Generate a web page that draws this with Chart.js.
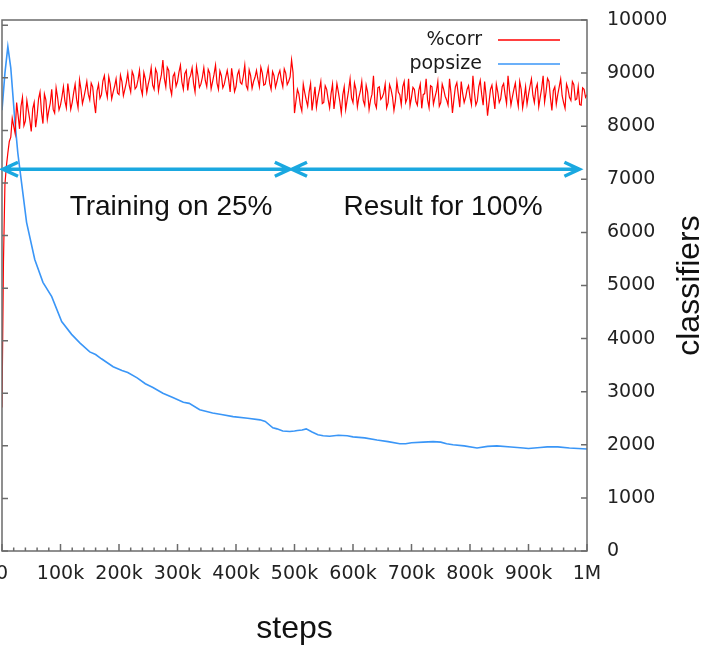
<!DOCTYPE html>
<html>
<head>
<meta charset="utf-8">
<script src="https://cdn.jsdelivr.net/npm/chart.js@4"></script>
<style>
body{margin:0;background:#fff;overflow:hidden;}
#wrap{width:718px;height:649px;overflow:hidden;position:relative;}
#c{position:absolute;left:-42px;top:0;}
</style>
</head>
<body>
<div id="wrap"><canvas id="c" width="760" height="649"></canvas></div>
<script>
// steps are in thousands
const xTickLabels = ['0', '100k', '200k', '300k', '400k', '500k', '600k', '700k', '800k', '900k', '1M'];

// %corr sampled every 5k steps (at 0, 5, 10 ...)
const corrInterval = 5;
const corrPct = [
  27.3, 69.7, 75.7, 78.7, 80.8, 85.3, 80.3, 86.3, 81.8, 83.8,
  79.8, 85.3, 82.8, 87.3, 81.3, 85.8, 83.8, 87.8, 83.3, 86.3,
  84.8, 88.3, 84.3, 86.8, 85.3, 88.8, 84.3, 87.8, 86.3, 89.3,
  85.8, 88.3, 83.3, 88.8, 86.8, 90.4, 86.3, 88.8, 87.3, 89.8,
  86.8, 89.3, 87.8, 90.9, 87.3, 90.4, 88.3, 91.4, 86.8, 89.8,
  88.8, 91.9, 87.8, 90.9, 89.3, 93.4, 88.3, 91.4, 86.8, 90.9,
  89.3, 92.4, 87.8, 91.4, 89.8, 91.9, 87.3, 90.4, 88.8, 91.9,
  88.3, 90.9, 89.3, 92.4, 87.8, 90.4, 88.8, 91.4, 87.3, 89.8,
  88.3, 91.4, 88.8, 92.4, 87.8, 90.4, 89.3, 91.4, 88.3, 90.9,
  88.8, 91.9, 87.8, 90.4, 89.3, 91.4, 88.3, 90.9, 89.3, 93.4,
  83.3, 87.8, 84.8, 88.8, 85.8, 87.3, 83.8, 88.3, 86.3, 89.3,
  85.3, 87.8, 84.3, 88.8, 86.3, 87.3, 83.3, 88.3, 85.8, 89.8,
  85.3, 87.8, 86.3, 89.3, 84.8, 87.3, 85.8, 90.4, 84.3, 88.3,
  86.3, 88.8, 85.3, 87.8, 83.8, 89.3, 86.8, 88.3, 85.3, 89.8,
  86.3, 87.8, 84.8, 88.8, 86.8, 89.8, 84.3, 88.3, 86.3, 89.3,
  85.3, 87.8, 85.8, 89.8, 83.3, 88.3, 86.8, 89.3, 85.3, 87.8,
  86.3, 90.4, 84.8, 88.3, 86.8, 89.3, 82.8, 87.8, 86.3, 88.8,
  85.3, 88.3, 86.8, 90.4, 84.8, 87.8, 86.3, 89.3, 84.3, 88.3,
  86.8, 89.8, 85.3, 88.8, 86.3, 90.4, 87.3, 89.3, 83.8, 88.3,
  86.8, 89.8, 85.3, 88.8, 86.3, 89.3, 85.8, 88.3, 84.8, 87.8,
  86.8
];
// %corr samples in between (at 2.5, 7.5, 12.5 ...)
const corrPctMid = [
  55.0, 73.2, 77.9, 82.3, 79.4, 82.9, 84.6, 80.9, 85.7, 82.0,
  84.1, 80.6, 86.0, 83.5, 86.9, 82.1, 85.2, 84.0, 88.1, 83.9,
  86.4, 85.6, 88.9, 84.0, 87.2, 85.9, 89.6, 85.1, 87.7, 86.9,
  89.0, 85.4, 87.5, 86.1, 89.4, 87.7, 90.2, 86.0, 88.4, 87.1,
  90.5, 86.6, 89.1, 88.5, 91.2, 87.9, 89.6, 88.0, 91.0, 87.2,
  90.0, 88.6, 91.7, 87.5, 90.6, 89.9, 92.0, 88.1, 90.3, 88.4,
  91.1, 89.2, 90.8, 87.6, 90.5, 88.9, 92.1, 88.2, 90.1, 89.5,
  91.6, 87.9, 90.7, 89.0, 91.3, 88.1, 90.2, 89.6, 91.8, 87.4,
  90.6, 89.1, 90.3, 88.5, 91.5, 88.0, 90.1, 89.7, 92.0, 88.6,
  90.4, 89.0, 91.2, 88.2, 90.6, 89.5, 91.7, 88.7, 90.2, 91.0,
  85.6, 86.9, 83.7, 87.2, 84.6, 88.9, 86.0, 84.4, 87.7, 85.1,
  88.5, 85.9, 87.0, 84.1, 88.9, 85.5, 86.7, 84.0, 87.6, 86.2,
  89.0, 84.5, 87.4, 85.7, 88.6, 84.0, 86.9, 85.2, 88.1, 85.9,
  87.1, 84.3, 88.7, 86.4, 85.6, 87.3, 84.9, 89.3, 86.1, 84.7,
  88.2, 85.5, 87.6, 84.2, 87.0, 85.8, 88.5, 85.0, 87.4, 84.6,
  88.8, 86.5, 84.8, 87.1, 85.9, 89.1, 84.4, 87.0, 86.3, 88.5,
  84.9, 87.2, 85.6, 89.5, 84.8, 86.6, 85.3, 88.6, 84.1, 87.3,
  86.0, 88.9, 85.1, 87.5, 86.4, 89.0, 84.6, 87.8, 86.1, 85.0,
  88.4, 86.7, 87.9, 84.5, 88.0, 85.4, 89.9, 86.2, 87.6, 85.0,
  88.3, 86.6, 84.2, 87.9, 85.7, 88.7, 86.0, 84.9, 88.1, 86.3
];

// popsize
const popSteps = [
  0, 5, 10, 15, 22, 27, 32, 42, 56, 70,
  85, 102, 119, 133, 150, 160, 170, 190, 205, 215,
  231, 245, 258, 275, 292, 310, 320, 338, 360, 375,
  395, 420, 441, 450, 463, 470, 480, 492, 500, 505,
  513, 520, 530, 540, 549, 560, 575, 590, 600, 620,
  641, 660, 680, 690, 700, 720, 737, 750, 760, 771,
  790, 812, 830, 846, 870, 891, 900, 920, 932, 950,
  970, 1000
];
const popSize = [
  8300, 9000, 9500, 9100, 8100, 7500, 7060, 6190, 5490, 5060,
  4790, 4320, 4080, 3920, 3750, 3700, 3620, 3470, 3400, 3360,
  3260, 3150, 3080, 2970, 2890, 2800, 2780, 2660, 2600, 2570,
  2530, 2500, 2470, 2440, 2320, 2300, 2260, 2250, 2260, 2270,
  2280, 2300, 2240, 2190, 2170, 2160, 2180, 2170, 2150, 2130,
  2090, 2060, 2020, 2020, 2040, 2050, 2060, 2050, 2020, 2000,
  1980, 1940, 1970, 1980, 1960, 1940, 1930, 1950, 1960, 1960,
  1940, 1920
];

// the two arrows and their captions (x in k steps, y in classifiers)
const arrowSpans = [[0, 492], [494, 987]];
const arrowLevel = 7190;
const captions = ['Training on 25%', 'Result for 100%'];
const captionSteps = [289, 754];
const captionLevel = 6470;

const ARROW = '#1aa8e0';
const FRAME = '#6b6b6b';

// merge main and in-between samples in step order
const corrData = [];
corrPct.forEach((v, i) => {
  corrData.push({x: i * corrInterval, y: v});
  if (i < corrPctMid.length) corrData.push({x: i * corrInterval + corrInterval / 2, y: corrPctMid[i]});
});

function drawArrow(ctx, x1, x2, y) {
  ctx.beginPath();
  ctx.moveTo(x1, y); ctx.lineTo(x2, y);
  ctx.moveTo(x1 + 15, y - 7); ctx.lineTo(x1, y); ctx.lineTo(x1 + 15, y + 7);
  ctx.moveTo(x2 - 15, y - 7); ctx.lineTo(x2, y); ctx.lineTo(x2 - 15, y + 7);
  ctx.stroke();
}

const decor = {
  id: 'decor',
  afterDatasetsDraw(chart) {
    const {ctx, chartArea: a, scales: {x, y, yl}} = chart;
    ctx.save();

    // frame and inward ticks
    ctx.strokeStyle = FRAME;
    ctx.lineWidth = 1.5;
    ctx.strokeRect(a.left, a.top, a.right - a.left, a.bottom - a.top);
    ctx.beginPath();
    for (let v = 0; v <= 1000; v += 20) {
      const px = x.getPixelForValue(v);
      const len = v % 100 === 0 ? 7 : 3.5;
      ctx.moveTo(px, a.bottom); ctx.lineTo(px, a.bottom - len);
    }
    y.ticks.forEach(t => {
      const py = y.getPixelForValue(t.value);
      ctx.moveTo(a.right, py); ctx.lineTo(a.right - 6, py);
    });
    for (let v = 0; v <= 100; v += 10) {
      const py = yl.getPixelForValue(v);
      ctx.moveTo(a.left, py); ctx.lineTo(a.left + 6, py);
    }
    ctx.stroke();

    // arrows
    ctx.strokeStyle = ARROW;
    ctx.lineWidth = 3.5;
    ctx.lineJoin = 'miter';
    const ay = y.getPixelForValue(arrowLevel);
    arrowSpans.forEach(s => drawArrow(ctx, x.getPixelForValue(s[0]) + 1, x.getPixelForValue(s[1]), ay));

    // captions
    ctx.fillStyle = '#111';
    ctx.font = '28px "Liberation Sans", Arial, sans-serif';
    ctx.textAlign = 'center';
    ctx.textBaseline = 'middle';
    captions.forEach((c, i) => ctx.fillText(c, x.getPixelForValue(captionSteps[i]), y.getPixelForValue(captionLevel)));

    // legend
    ctx.font = '19px "DejaVu Sans", sans-serif';
    ctx.textAlign = 'right';
    ctx.fillStyle = '#1a1a1a';
    chart.data.datasets.forEach((ds, i) => {
      const ly = a.top + 20 + i * 24;
      ctx.fillText(ds.label, a.right - 105, ly);
      ctx.strokeStyle = ds.borderColor;
      ctx.lineWidth = 1.5;
      ctx.beginPath();
      ctx.moveTo(a.right - 89, ly); ctx.lineTo(a.right - 27, ly);
      ctx.stroke();
    });

    // axis titles
    ctx.fillStyle = '#111';
    ctx.font = '32px "Liberation Sans", Arial, sans-serif';
    ctx.textAlign = 'center';
    ctx.fillText('steps', (a.left + a.right) / 2, a.bottom + 78);
    ctx.translate(a.right + 103, (a.top + a.bottom) / 2);
    ctx.rotate(-Math.PI / 2);
    ctx.fillText('classifiers', 0, 0);
    ctx.restore();
  }
};

new Chart(document.getElementById('c'), {
  type: 'line',
  data: {
    datasets: [{
      label: '%corr',
      data: corrData,
      borderColor: '#ff0000',
      borderWidth: 1.2,
      pointRadius: 0,
      tension: 0,
      yAxisID: 'yl'
    }, {
      label: 'popsize',
      data: popSteps.map((s, i) => ({x: s, y: popSize[i]})),
      borderColor: '#3a96f7',
      borderWidth: 1.6,
      pointRadius: 0,
      tension: 0,
      yAxisID: 'y'
    }]
  },
  options: {
    responsive: false,
    animation: false,
    devicePixelRatio: 1,
    layout: {padding: {left: 44, top: 20, right: 0, bottom: 0}},
    plugins: {legend: {display: false}, tooltip: {enabled: false}},
    scales: {
      x: {
        type: 'linear',
        min: 0,
        max: 1000,
        grid: {display: false, drawTicks: false},
        border: {display: false},
        afterFit: s => { s.height = 98; },
        ticks: {
          stepSize: 100,
          padding: 12,
          color: '#222',
          font: {family: 'DejaVu Sans', size: 19},
          maxRotation: 0,
          callback: v => xTickLabels[Math.round(v / 100)]
        }
      },
      y: {
        position: 'right',
        min: 0,
        max: 10000,
        grid: {display: false, drawTicks: false},
        border: {display: false},
        afterFit: s => { s.width = 131; s.paddingTop = 0; s.paddingBottom = 0; },
        ticks: {
          stepSize: 1000,
          padding: 20,
          color: '#222',
          font: {family: 'DejaVu Sans', size: 19},
          callback: v => String(v)
        }
      },
      yl: {
        display: false,
        position: 'left',
        min: 0,
        max: 101
      }
    }
  },
  plugins: [decor]
});
</script>
</body>
</html>
